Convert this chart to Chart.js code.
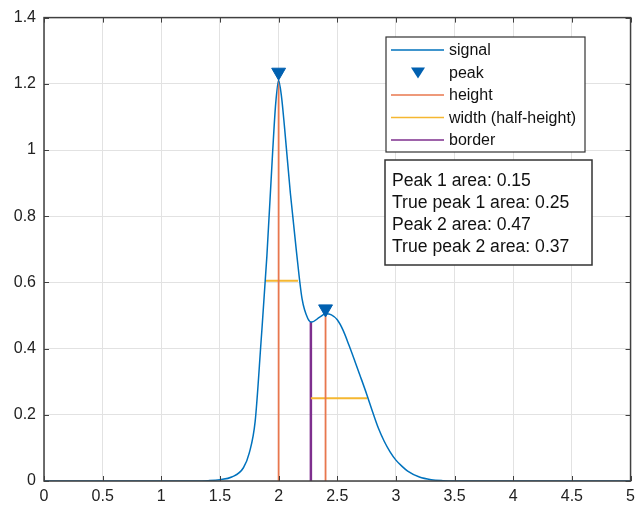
<!DOCTYPE html>
<html>
<head>
<meta charset="utf-8">
<script src="https://cdn.jsdelivr.net/npm/chart.js@4.4.1/dist/chart.umd.min.js"></script>
<style>
  html, body { margin: 0; padding: 0; background: #fff; overflow: hidden; }
  #wrap { width: 641px; height: 509px; position: relative; }
</style>
</head>
<body>
<div id="wrap"><canvas id="peaks"></canvas></div>
<script>
// signal
const sigX = [0, 1.0, 1.3, 1.4, 1.5, 1.6, 1.7, 1.75, 1.8, 1.85, 1.9, 1.95, 1.975, 2.0, 2.025, 2.05, 2.1, 2.15, 2.2, 2.25, 2.28, 2.35, 2.4, 2.45, 2.5, 2.55, 2.6, 2.65, 2.7, 2.75, 2.8, 2.85, 2.9, 2.95, 3.0, 3.05, 3.1, 3.2, 3.3, 3.4, 3.5, 5];
const sigY = [0, 0, 0, 0.001, 0.004, 0.012, 0.04, 0.085, 0.18, 0.42, 0.68, 1.0, 1.14, 1.21, 1.16, 1.07, 0.87, 0.7, 0.55, 0.49, 0.48, 0.495, 0.505, 0.502, 0.487, 0.455, 0.41, 0.362, 0.313, 0.263, 0.21, 0.16, 0.12, 0.088, 0.063, 0.045, 0.03, 0.012, 0.004, 0.001, 0, 0];

const peakX = [2.0, 2.4];
const peakY = [1.235, 0.52];
const heightTop = [1.21, 0.505];
const widthY = [0.605, 0.25];
const widthLeft = [1.885, 2.275];
const widthRight = [2.165, 2.755];
const borderX = [2.275];
const borderTop = [0.48];

const areaLines = ['Peak 1 area: 0.15', 'True peak 1 area: 0.25', 'Peak 2 area: 0.47', 'True peak 2 area: 0.37'];

const BLUE = '#0072BD', MARK = '#0060B0', ORANGE = '#E8774E', YELLOW = '#F5B731', PURPLE = '#7E2F8E';
const FONT = '"Liberation Sans", Arial, sans-serif';

const seg = (x0, y0, x1, y1) => [{ x: x0, y: y0 }, { x: x1, y: y1 }];

const datasets = [
  { label: 'signal', data: sigX.map((x, i) => ({ x: x, y: sigY[i] })), borderColor: BLUE, borderWidth: 1.5,
    pointRadius: 0, showLine: true, cubicInterpolationMode: 'monotone', order: 1 },
  { label: 'peak', data: peakX.map((x, i) => ({ x: x, y: peakY[i] })), backgroundColor: MARK, borderColor: MARK,
    pointStyle: 'triangle', rotation: 180, pointRadius: 8, showLine: false, order: 0 }
];
peakX.forEach((x, i) => datasets.push({ label: i ? '' : 'height', data: seg(x, 0, x, heightTop[i]),
  borderColor: ORANGE, borderWidth: 1.8, pointRadius: 0, showLine: true, order: 2 }));
widthY.forEach((y, i) => datasets.push({ label: i ? '' : 'width (half-height)', data: seg(widthLeft[i], y, widthRight[i], y),
  borderColor: YELLOW, borderWidth: 1.8, pointRadius: 0, showLine: true, order: 2 }));
borderX.forEach((x, i) => datasets.push({ label: 'border', data: seg(x, 0, x, borderTop[i]),
  borderColor: PURPLE, borderWidth: 2.5, pointRadius: 0, showLine: true, order: 2 }));

// box, inward ticks, legend and text box
const extras = {
  id: 'extras',
  afterDraw(chart) {
    const ctx = chart.ctx, a = chart.chartArea, xs = chart.scales.x, ys = chart.scales.y;
    ctx.save();
    ctx.strokeStyle = '#404040';
    ctx.lineWidth = 1.5;
    ctx.strokeRect(a.left, a.top, a.right - a.left, a.bottom - a.top);
    ctx.lineWidth = 1;
    xs.ticks.forEach(t => {
      const p = Math.round(xs.getPixelForValue(t.value)) + 0.5;
      ctx.beginPath(); ctx.moveTo(p, a.bottom); ctx.lineTo(p, a.bottom - 5);
      ctx.moveTo(p, a.top); ctx.lineTo(p, a.top + 5); ctx.stroke();
    });
    ys.ticks.forEach(t => {
      const p = Math.round(ys.getPixelForValue(t.value)) + 0.5;
      ctx.beginPath(); ctx.moveTo(a.left, p); ctx.lineTo(a.left + 5, p);
      ctx.moveTo(a.right, p); ctx.lineTo(a.right - 5, p); ctx.stroke();
    });

    // legend
    const lx = 386, ly = 37, lw = 199, lh = 115;
    ctx.fillStyle = '#fff';
    ctx.fillRect(lx, ly, lw, lh);
    ctx.strokeStyle = '#333';
    ctx.lineWidth = 1.2;
    ctx.strokeRect(lx, ly, lw, lh);
    const items = [
      { t: 'signal', c: BLUE }, { t: 'peak', c: MARK, tri: true }, { t: 'height', c: ORANGE },
      { t: 'width (half-height)', c: YELLOW }, { t: 'border', c: PURPLE }
    ];
    ctx.font = '16px ' + FONT;
    ctx.textBaseline = 'middle';
    items.forEach((it, i) => {
      const y = ly + 13 + i * 22.5;
      if (it.tri) {
        ctx.fillStyle = it.c;
        ctx.beginPath(); ctx.moveTo(411, y - 5); ctx.lineTo(425, y - 5); ctx.lineTo(418, y + 6); ctx.closePath(); ctx.fill();
      } else {
        ctx.strokeStyle = it.c; ctx.lineWidth = 1.5;
        ctx.beginPath(); ctx.moveTo(391, y); ctx.lineTo(444, y); ctx.stroke();
      }
      ctx.fillStyle = '#111';
      ctx.fillText(it.t, 449, y + 1);
    });

    // text box
    const bx = 385, by = 160, bw = 207, bh = 105;
    ctx.fillStyle = '#fff';
    ctx.fillRect(bx, by, bw, bh);
    ctx.strokeStyle = '#333';
    ctx.lineWidth = 1.5;
    ctx.strokeRect(bx, by, bw, bh);
    ctx.fillStyle = '#111';
    ctx.font = '17.6px ' + FONT;
    areaLines.forEach((s, i) => ctx.fillText(s, 392, by + 21 + i * 22));
    ctx.restore();
  }
};

new Chart(document.getElementById('peaks'), {
  type: 'scatter',
  data: { datasets: datasets },
  options: {
    responsive: true,
    maintainAspectRatio: false,
    animation: false,
    layout: { padding: { top: 16, right: 0, left: 0, bottom: 0 } },
    plugins: { legend: { display: false }, tooltip: { enabled: false } },
    scales: {
      x: {
        type: 'linear', min: 0, max: 5,
        ticks: { stepSize: 0.5, color: '#222', font: { family: FONT, size: 16 }, padding: 6, maxRotation: 0,
          callback: v => String(+v.toFixed(1)) },
        grid: { color: '#e2e2e2', drawTicks: false },
        border: { display: false },
        afterFit: s => { s.height = 28; }
      },
      y: {
        min: 0, max: 1.4,
        ticks: { stepSize: 0.2, color: '#222', font: { family: FONT, size: 16 }, padding: 8,
          callback: v => String(+v.toFixed(1)) },
        grid: { color: '#e2e2e2', drawTicks: false },
        border: { display: false },
        afterFit: s => { s.width = 44; }
      }
    }
  },
  plugins: [extras]
});
</script>
</body>
</html>
